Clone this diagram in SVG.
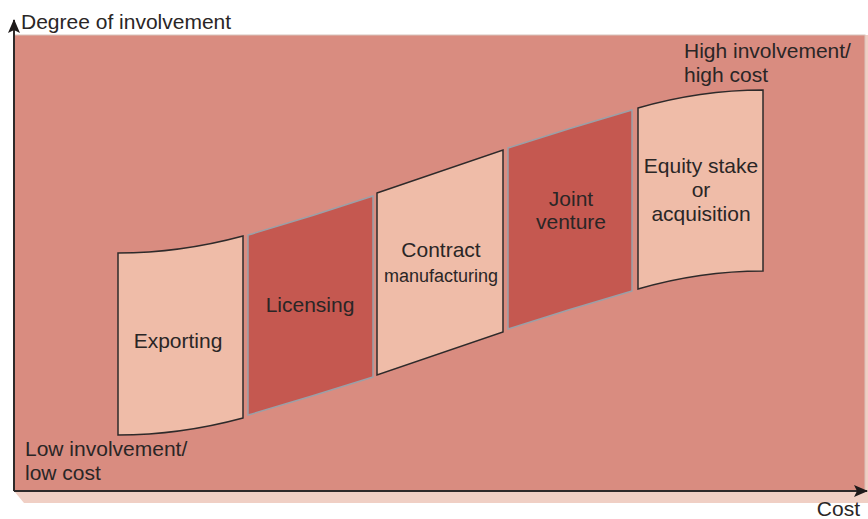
<svg xmlns="http://www.w3.org/2000/svg" width="868" height="519" viewBox="0 0 868 519">
<style>
text{font-family:"Liberation Sans",Arial,sans-serif;fill:#2a2626;font-size:21px}
.c{text-anchor:middle}
.lt{fill:#efbca8;stroke:#2e2a2a;stroke-width:1.5}
.dk{fill:#c55850;stroke:#9aa0a8;stroke-width:1.5}
.ax{stroke:#2e2a2a;stroke-width:2;fill:none}
</style>
<defs>
<marker id="ah" viewBox="0 0 14 12" refX="13" refY="6" markerWidth="14" markerHeight="12" markerUnits="userSpaceOnUse" orient="auto">
<path d="M0,0 L14,6 L0,12 L3,6 Z" fill="#1e1a1a"/>
</marker>
</defs>
<g id="background">
<polygon points="14,491 866,491 868,491 868,503 24,503" fill="#f0cfc4"/>
<rect x="865" y="35" width="3" height="456" fill="#f0cfc4"/>
<rect x="14" y="35" width="851" height="456" fill="#d98c80" stroke="#d8c4bc" stroke-width="1"/>
</g>
<g id="connectors">
<line class="ax" x1="14" y1="491" x2="14" y2="20" marker-end="url(#ah)"/>
<line class="ax" x1="14" y1="491" x2="867" y2="491" marker-end="url(#ah)"/>
</g>
<g id="exporting">
<path class="lt" d="M118,253 Q180,253 243,236 L243,418 Q180,435 118,435 Z"/>
<text class="c" x="178" y="348">Exporting</text>
</g>
<g id="licensing">
<path class="dk" d="M248,235 Q310,217 373,196 L373,377 Q310,397 248,415 Z"/>
<text class="c" x="310" y="312">Licensing</text>
</g>
<g id="contract">
<path class="lt" d="M377,193 L503,150 L503,332 L377,375 Z"/>
<text class="c" x="441" y="257">Contract</text>
<text class="c" x="441" y="282" style="font-size:18px">manufacturing</text>
</g>
<g id="joint">
<path class="dk" d="M508,148 Q570,128 632,110 L632,291 Q570,309 508,329 Z"/>
<text class="c" x="571" y="206">Joint</text>
<text class="c" x="571" y="229">venture</text>
</g>
<g id="equity">
<path class="lt" d="M638,108 Q700,90 763,90 L763,271 Q700,271 638,289 Z"/>
<text class="c" x="701" y="173">Equity stake</text>
<text class="c" x="701" y="197">or</text>
<text class="c" x="701" y="221">acquisition</text>
</g>
<g id="labels">
<text x="21" y="29">Degree of involvement</text>
<text x="25" y="456">Low involvement/</text>
<text x="25" y="480">low cost</text>
<text x="684" y="58">High involvement/</text>
<text x="684" y="82">high cost</text>
<text x="860" y="516" style="text-anchor:end">Cost</text>
</g>
</svg>
